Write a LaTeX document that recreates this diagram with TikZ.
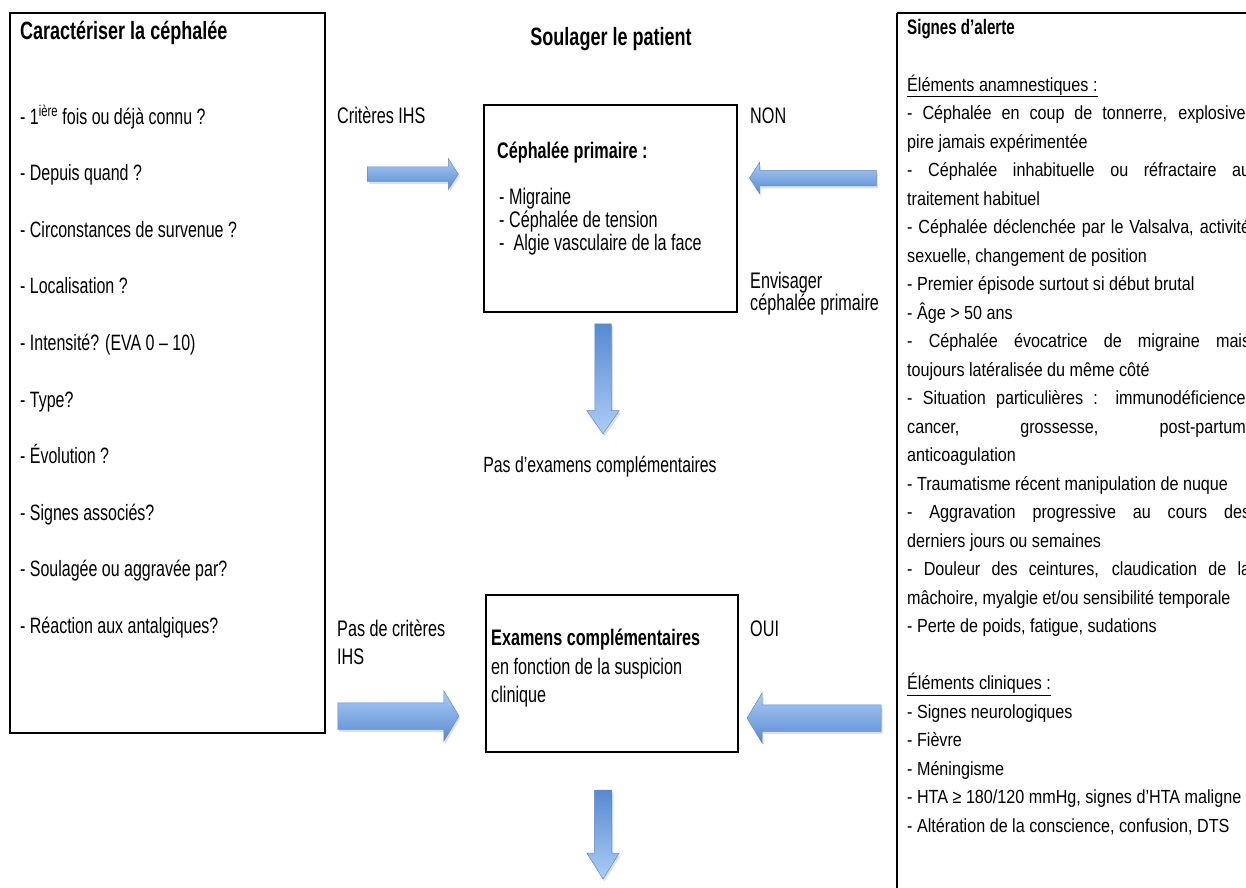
\documentclass[tikz,border=0pt]{standalone}
\usepackage{fontspec}
\setmainfont{Liberation Sans}[FakeStretch=0.72]
\newfontfamily\rfont{Liberation Sans}[FakeStretch=0.85]
\usetikzlibrary{shapes.arrows,shadows}
\definecolor{arrowlight}{RGB}{172,204,245}
\definecolor{arrowdark}{RGB}{86,138,210}
\definecolor{arrowline}{RGB}{95,140,200}
\tikzset{
  frame/.style={draw=black, line width=1.6pt},
  txt/.style={anchor=base west, inner sep=0pt, font=\fontsize{22.2}{28}\selectfont},
  smalltxt/.style={anchor=base west, inner sep=0pt, font=\fontsize{22.5}{28}\selectfont},
  ttl/.style={anchor=base west, inner sep=0pt, font=\bfseries\fontsize{25}{28}\selectfont},
  barrow/.style={single arrow, draw=arrowline, line width=0.5pt, inner xsep=0pt,
    single arrow head indent=0pt,
    drop shadow={shadow xshift=1.5pt, shadow yshift=-2.5pt, opacity=0.25}},
  hshade/.style={top color=arrowlight, bottom color=arrowdark},
  vshade/.style={top color=arrowdark, bottom color=arrowlight, rotate=-90},
}
\begin{document}
\begin{tikzpicture}[x=1pt,y=-1pt]
\useasboundingbox (0,0) rectangle (1246,887);
\clip (0,0) rectangle (1246,887);

% left box
\draw[frame] (10,13) rectangle (325,733);
\node[ttl] (ltitle) at (20,39) {Caractériser la céphalée};
\node[txt] (l1) at (20,124) {- 1\textsuperscript{ière} fois ou déjà connu ?};
\node[txt] (l2) at (20,180.6) {- Depuis quand ?};
\node[txt] (l3) at (20,237.2) {- Circonstances de survenue ?};
\node[txt] (l4) at (20,293.8) {- Localisation ?};
\node[txt] (l5) at (20,350.4) {- Intensité? (EVA 0 – 10)};
\node[txt] (l6) at (20,407) {- Type?};
\node[txt] (l7) at (20,463.6) {- Évolution ?};
\node[txt] (l8) at (20,520.2) {- Signes associés?};
\node[txt] (l9) at (20,576.8) {- Soulagée ou aggravée par?};
\node[txt] (l10) at (20,633.4) {- Réaction aux antalgiques?};

% centre title
\node[anchor=base, inner sep=0pt, font=\bfseries\fontsize{25}{28}\selectfont] (ctitle) at (611,45) {Soulager le patient};

% box 1
\draw[frame] (484,105) rectangle (737,312);
\node[anchor=base west, inner sep=0pt, font=\bfseries\fontsize{22.5}{28}\selectfont] (b1h) at (497,158) {Céphalée primaire :};
\node[smalltxt] (b1a) at (499,204) {- Migraine};
\node[smalltxt] (b1b) at (499,227) {- Céphalée de tension};
\node[smalltxt] (b1c) at (499,250) {-\ \ Algie vasculaire de la face};

\node[smalltxt] (crit) at (337,123) {Critères IHS};
\node[smalltxt] (non) at (750,123) {NON};
\node[smalltxt] (env1) at (750,288) {Envisager};
\node[smalltxt] (env2) at (750,310) {céphalée primaire};

\node[anchor=base, inner sep=0pt, font=\fontsize{22}{28}\selectfont] (pasex) at (600,472) {Pas d’examens complémentaires};

% box 2
\draw[frame] (486,595) rectangle (738,752);
\node[anchor=base west, inner sep=0pt, font=\bfseries\fontsize{22.5}{28}\selectfont] (b2h) at (491,645) {Examens complémentaires};
\node[smalltxt] (b2a) at (491,674) {en fonction de la suspicion};
\node[smalltxt] (b2b) at (491,702) {clinique};

\node[smalltxt] (pasc1) at (337,636) {Pas de critères};
\node[smalltxt] (pasc2) at (337,664) {IHS};
\node[smalltxt] (oui) at (750,636) {OUI};

% right box
\draw[frame] (897,13) -- (1270,13) (897,13) -- (897,900);
\node[anchor=base west, inner sep=0pt, text width=343pt, align=justify,
      font=\rfont\fontsize{19}{28.5}\selectfont] (rtext) at (907,34) {%
\parindent=0pt
{\normalfont\bfseries\fontsize{21}{28.5}\selectfont Signes d’alerte}\par
\mbox{}\par
\underline{Éléments anamnestiques :}\par
- Céphalée en coup de tonnerre, explosive,\linebreak pire jamais expérimentée\par
- Céphalée inhabituelle ou réfractaire au\linebreak traitement habituel\par
- Céphalée déclenchée par le Valsalva, activité\linebreak sexuelle, changement de position\par
- Premier épisode surtout si début brutal\par
- Âge > 50 ans\par
- Céphalée évocatrice de migraine mais\linebreak toujours latéralisée du même côté\par
- Situation particulières : immunodéficience,\linebreak cancer, grossesse, post-partum,\linebreak anticoagulation\par
- Traumatisme récent manipulation de nuque\par
- Aggravation progressive au cours des\linebreak derniers jours ou semaines\par
- Douleur des ceintures, claudication de la\linebreak mâchoire, myalgie et/ou sensibilité temporale\par
- Perte de poids, fatigue, sudations\par
\mbox{}\par
\underline{Éléments cliniques :}\par
- Signes neurologiques\par
- Fièvre\par
- Méningisme\par
- HTA ≥ 180/120 mmHg, signes d’HTA maligne\par
- Altération de la conscience, confusion, DTS\par
};

% block arrows
\node[barrow, hshade, minimum height=91pt, inner ysep=7pt, single arrow head extend=8pt, single arrow tip angle=114] (a1) at (410.5,174) {};
\node[barrow, hshade, shape border rotate=180, minimum height=127pt, inner ysep=7.5pt, single arrow head extend=8pt, single arrow tip angle=114] (a2) at (815.5,178) {};
\node[barrow, vshade, minimum height=110pt, inner ysep=8pt, single arrow head extend=8pt, single arrow tip angle=70] (d1) at (603,373) {};
\node[barrow, hshade, minimum height=121pt, inner ysep=13pt, single arrow head extend=12pt, single arrow tip angle=118] (a3) at (394.5,716) {};
\node[barrow, hshade, shape border rotate=180, minimum height=134pt, inner ysep=13pt, single arrow head extend=12pt, single arrow tip angle=118] (a4) at (818,718) {};
\node[barrow, vshade, minimum height=89pt, inner ysep=8.5pt, single arrow head extend=7.5pt, single arrow tip angle=64] (d2) at (603,827.5) {};
\end{tikzpicture}
\end{document}
